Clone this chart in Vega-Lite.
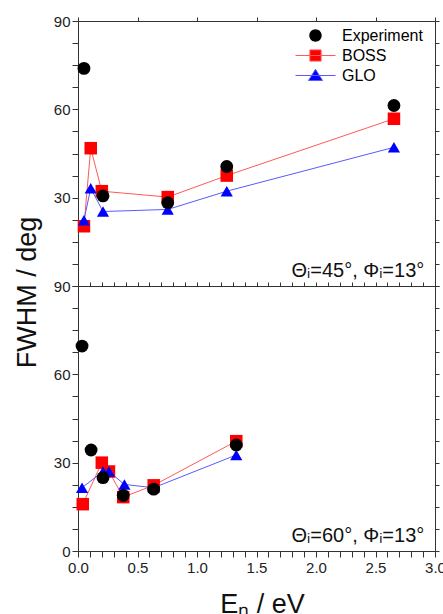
{
  "$schema": "https://vega.github.io/schema/vega-lite/v6.json",
  "background": "white",
  "padding": {"left": 13, "top": 13, "right": 0, "bottom": 0},
  "bounds": "flush",
  "spacing": 0,
  "config": {
    "view": {"stroke": "#333", "strokeWidth": 1},
    "font": "Liberation Sans",
    "axis": {"grid": false, "domain": false, "labelFont": "Liberation Sans", "labelFontSize": 15, "labelColor": "#222", "titleFont": "Liberation Sans", "titleFontWeight": "normal", "titleColor": "#111", "tickColor": "#333", "labelOverlap": false, "labelFlush": false},
    "legend": {"orient": "none", "legendX": 227, "legendY": 4, "title": null, "direction": "vertical", "columns": 1, "symbolSize": 400, "symbolStrokeWidth": 1, "symbolOpacity": 1, "labelFontSize": 16, "labelFont": "Liberation Sans", "labelColor": "#000", "labelOffset": 16, "rowPadding": 1, "padding": 0}
  },
  "data": {"values": [
    {"panel": "45", "series": "BOSS", "E": 0.05, "FWHM": 20.3},
    {"panel": "45", "series": "BOSS", "E": 0.107, "FWHM": 46.8},
    {"panel": "45", "series": "BOSS", "E": 0.2, "FWHM": 32.2},
    {"panel": "45", "series": "BOSS", "E": 0.754, "FWHM": 30.2},
    {"panel": "45", "series": "BOSS", "E": 1.25, "FWHM": 37.5},
    {"panel": "45", "series": "BOSS", "E": 2.655, "FWHM": 56.8},
    {"panel": "45", "series": "GLO", "E": 0.05, "FWHM": 22.3},
    {"panel": "45", "series": "GLO", "E": 0.107, "FWHM": 33.2},
    {"panel": "45", "series": "GLO", "E": 0.21, "FWHM": 25.3},
    {"panel": "45", "series": "GLO", "E": 0.754, "FWHM": 26.0},
    {"panel": "45", "series": "GLO", "E": 1.25, "FWHM": 32.2},
    {"panel": "45", "series": "GLO", "E": 2.655, "FWHM": 47.1},
    {"panel": "45", "series": "Experiment", "E": 0.05, "FWHM": 73.9},
    {"panel": "45", "series": "Experiment", "E": 0.21, "FWHM": 30.6},
    {"panel": "45", "series": "Experiment", "E": 0.754, "FWHM": 28.3},
    {"panel": "45", "series": "Experiment", "E": 1.25, "FWHM": 40.6},
    {"panel": "45", "series": "Experiment", "E": 2.655, "FWHM": 61.3},
    {"panel": "60", "series": "BOSS", "E": 0.04, "FWHM": 15.9},
    {"panel": "60", "series": "BOSS", "E": 0.2, "FWHM": 30.0},
    {"panel": "60", "series": "BOSS", "E": 0.26, "FWHM": 27.0},
    {"panel": "60", "series": "BOSS", "E": 0.38, "FWHM": 18.3},
    {"panel": "60", "series": "BOSS", "E": 0.636, "FWHM": 22.3},
    {"panel": "60", "series": "BOSS", "E": 1.33, "FWHM": 37.3},
    {"panel": "60", "series": "GLO", "E": 0.034, "FWHM": 21.5},
    {"panel": "60", "series": "GLO", "E": 0.21, "FWHM": 27.0},
    {"panel": "60", "series": "GLO", "E": 0.26, "FWHM": 27.0},
    {"panel": "60", "series": "GLO", "E": 0.39, "FWHM": 22.6},
    {"panel": "60", "series": "GLO", "E": 0.636, "FWHM": 21.5},
    {"panel": "60", "series": "GLO", "E": 1.33, "FWHM": 32.6},
    {"panel": "60", "series": "Experiment", "E": 0.034, "FWHM": 69.6},
    {"panel": "60", "series": "Experiment", "E": 0.11, "FWHM": 34.3},
    {"panel": "60", "series": "Experiment", "E": 0.21, "FWHM": 24.9},
    {"panel": "60", "series": "Experiment", "E": 0.38, "FWHM": 18.9},
    {"panel": "60", "series": "Experiment", "E": 0.636, "FWHM": 21.0},
    {"panel": "60", "series": "Experiment", "E": 1.33, "FWHM": 36.0}
  ]},
  "resolve": {"scale": {"color": "independent", "shape": "independent", "size": "independent", "stroke": "independent"}},
  "vconcat": [
    {
      "width": 357,
      "height": 265,
      "layer": [
        {
          "transform": [{"filter": "datum.panel === '45' && datum.series !== 'Experiment'"}],
          "mark": {"type": "line", "strokeWidth": 1},
          "encoding": {
            "x": {"field": "E", "type": "quantitative", "scale": {"domain": [0, 3], "nice": false},
              "axis": {"orient": "top", "values": [0, 0.5, 1, 1.5, 2, 2.5, 3], "labels": false, "tickSize": 4, "title": null,
                "encode": {"ticks": {"y2": {"value": 4}}}}},
            "y": {"field": "FWHM", "type": "quantitative", "scale": {"domain": [0, 90], "nice": false},
              "axis": {"orient": "left", "values": [0, 7.5, 15, 22.5, 30, 37.5, 45, 52.5, 60, 67.5, 75, 82.5, 90],
                "labelExpr": "datum.value % 30 === 0 && datum.value > 0 ? datum.label : ''", "tickSize": 6, "labelPadding": 2,
                "encode": {"ticks": {"x2": {"value": {"expr": "datum.value % 30 === 0 ? -6 : -3"}}}},
                "title": "FWHM / deg", "titleFontSize": 27, "titleX": -42.5, "titleY": 271, "titleAngle": 270, "titleAlign": "center", "titleBaseline": "alphabetic"}},
            "stroke": {"field": "series", "type": "nominal", "scale": {"domain": ["BOSS", "GLO"], "range": ["#ff5a5a", "#5a5aff"]}, "legend": null}
          }
        },
        {
          "transform": [{"filter": "datum.panel === '45'"}],
          "mark": {"type": "point", "filled": true, "opacity": 1},
          "encoding": {
            "x": {"field": "E", "type": "quantitative", "scale": {"domain": [0, 3], "nice": false}, "axis": null},
            "y": {"field": "FWHM", "type": "quantitative", "scale": {"domain": [0, 90], "nice": false},
              "axis": {"orient": "right", "values": [0, 7.5, 15, 22.5, 30, 37.5, 45, 52.5, 60, 67.5, 75, 82.5, 90], "labels": false, "tickSize": 4, "title": null,
                "encode": {"ticks": {"x2": {"value": -4}}}}},
            "color": {"field": "series", "type": "nominal", "scale": {"domain": ["Experiment", "BOSS", "GLO"], "range": ["#000000", "#ff0000", "#0000ff"]}, "legend": null},
            "shape": {"field": "series", "type": "nominal", "scale": {"domain": ["Experiment", "BOSS", "GLO"], "range": ["circle", "square", "triangle-up"]}, "legend": null},
            "size": {"field": "series", "type": "nominal", "scale": {"domain": ["Experiment", "BOSS", "GLO"], "range": [165, 148, 225]}, "legend": null}
          }
        },
        {
          "transform": [{"filter": "datum.panel === '45'"}],
          "mark": {"type": "point", "filled": true, "opacity": 0},
          "encoding": {
            "x": {"field": "E", "type": "quantitative", "scale": {"domain": [0, 3], "nice": false}, "axis": null},
            "y": {"field": "FWHM", "type": "quantitative", "scale": {"domain": [0, 90], "nice": false}, "axis": null},
            "color": {"field": "series", "type": "nominal", "scale": {"domain": ["Experiment", "BOSS", "GLO"], "range": ["#000000", "#ff0000", "#0000ff"]}, "legend": {"columns": 1}},
            "stroke": {"field": "series", "type": "nominal", "scale": {"domain": ["Experiment", "BOSS", "GLO"], "range": ["transparent", "#ff5a5a", "#5a5aff"]}, "legend": {"columns": 1}},
            "shape": {"field": "series", "type": "nominal", "scale": {"domain": ["Experiment", "BOSS", "GLO"], "range": ["M-2,0H2M0.62,0A0.62,0.62,0,1,1,-0.62,0A0.62,0.62,0,1,1,0.62,0Z", "M-2,0H2M-0.56,-0.56H0.56V0.56H-0.56Z", "M-2,0H2M0,-0.62L0.7,0.5H-0.7Z"]}, "legend": {"columns": 1}}
          }
        },
        {
          "data": {"values": [{}]},
          "mark": {"type": "text", "align": "right", "baseline": "alphabetic", "fontSize": 20, "font": "Liberation Sans", "color": "#111"},
          "encoding": {
            "x": {"datum": 2.91, "type": "quantitative", "axis": null},
            "y": {"datum": 3.2, "type": "quantitative", "axis": null},
            "text": {"value": "Θᵢ=45°, Φᵢ=13°"}
          }
        }
      ],
      "resolve": {"axis": {"x": "independent", "y": "independent"}, "scale": {"color": "independent", "shape": "independent", "stroke": "independent", "size": "independent"}}
    },
    {
      "width": 357,
      "height": 265,
      "layer": [
        {
          "transform": [{"filter": "datum.panel === '60' && datum.series !== 'Experiment'"}],
          "mark": {"type": "line", "strokeWidth": 1},
          "encoding": {
            "x": {"field": "E", "type": "quantitative", "scale": {"domain": [0, 3], "nice": false},
              "axis": {"orient": "bottom", "values": [0, 0.1, 0.2, 0.3, 0.4, 0.5, 0.6, 0.7, 0.8, 0.9, 1, 1.1, 1.2, 1.3, 1.4, 1.5, 1.6, 1.7, 1.8, 1.9, 2, 2.1, 2.2, 2.3, 2.4, 2.5, 2.6, 2.7, 2.8, 2.9, 3],
                "format": ".1f", "labelExpr": "abs(datum.value*2 - round(datum.value*2)) < 0.001 ? datum.label : ''", "tickSize": 6, "labelPadding": 3,
                "encode": {"ticks": {"y2": {"value": {"expr": "abs(datum.value*2 - round(datum.value*2)) < 0.001 ? 6 : 3"}}}},
                "title": "Eₙ / eV", "titleFontSize": 27, "titleX": 184, "titleY": 61, "titleAlign": "center", "titleBaseline": "alphabetic"}},
            "y": {"field": "FWHM", "type": "quantitative", "scale": {"domain": [0, 90], "nice": false},
              "axis": {"orient": "left", "values": [0, 7.5, 15, 22.5, 30, 37.5, 45, 52.5, 60, 67.5, 75, 82.5, 90],
                "labelExpr": "datum.value % 30 === 0 ? datum.label : ''", "tickSize": 6, "labelPadding": 2,
                "encode": {"ticks": {"x2": {"value": {"expr": "datum.value % 30 === 0 ? -6 : -3"}}}},
                "title": null}},
            "stroke": {"field": "series", "type": "nominal", "scale": {"domain": ["BOSS", "GLO"], "range": ["#ff5a5a", "#5a5aff"]}, "legend": null}
          }
        },
        {
          "transform": [{"filter": "datum.panel === '60'"}],
          "mark": {"type": "point", "filled": true, "opacity": 1},
          "encoding": {
            "x": {"field": "E", "type": "quantitative", "scale": {"domain": [0, 3], "nice": false},
              "axis": {"orient": "top", "values": [0, 0.1, 0.2, 0.3, 0.4, 0.5, 0.6, 0.7, 0.8, 0.9, 1, 1.1, 1.2, 1.3, 1.4, 1.5, 1.6, 1.7, 1.8, 1.9, 2, 2.1, 2.2, 2.3, 2.4, 2.5, 2.6, 2.7, 2.8, 2.9, 3],
                "labels": false, "tickSize": 4, "title": null,
                "encode": {"ticks": {"y2": {"value": {"expr": "abs(datum.value*2 - round(datum.value*2)) < 0.001 ? 5 : 3"}}}}}},
            "y": {"field": "FWHM", "type": "quantitative", "scale": {"domain": [0, 90], "nice": false},
              "axis": {"orient": "right", "values": [0, 7.5, 15, 22.5, 30, 37.5, 45, 52.5, 60, 67.5, 75, 82.5, 90], "labels": false, "tickSize": 4, "title": null,
                "encode": {"ticks": {"x2": {"value": -4}}}}},
            "color": {"field": "series", "type": "nominal", "scale": {"domain": ["Experiment", "BOSS", "GLO"], "range": ["#000000", "#ff0000", "#0000ff"]}, "legend": null},
            "shape": {"field": "series", "type": "nominal", "scale": {"domain": ["Experiment", "BOSS", "GLO"], "range": ["circle", "square", "triangle-up"]}, "legend": null},
            "size": {"field": "series", "type": "nominal", "scale": {"domain": ["Experiment", "BOSS", "GLO"], "range": [165, 148, 225]}, "legend": null}
          }
        },
        {
          "data": {"values": [{}]},
          "mark": {"type": "text", "align": "right", "baseline": "alphabetic", "fontSize": 20, "font": "Liberation Sans", "color": "#111"},
          "encoding": {
            "x": {"datum": 2.91, "type": "quantitative", "axis": null},
            "y": {"datum": 3.2, "type": "quantitative", "axis": null},
            "text": {"value": "Θᵢ=60°, Φᵢ=13°"}
          }
        }
      ],
      "resolve": {"axis": {"x": "independent", "y": "independent"}}
    }
  ]
}
